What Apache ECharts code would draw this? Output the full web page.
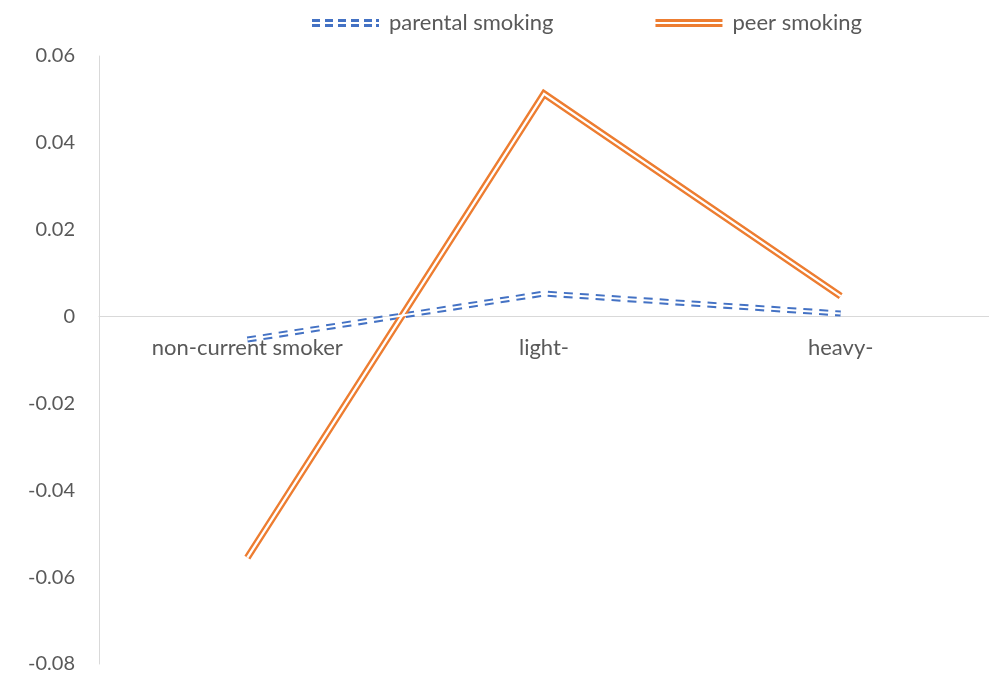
<!DOCTYPE html>
<html>
<head>
<meta charset="utf-8">
<script src="https://cdn.jsdelivr.net/npm/echarts@6/dist/echarts.min.js"></script>
<style>
  html, body { margin: 0; padding: 0; background: #fff; }
  #chart { width: 989px; height: 689px; }
</style>
</head>
<body>
<div id="chart"></div>
<script>
// Smoking-status categories and effect estimates
const categories = ['non-current smoker', 'light-', 'heavy-'];
const parentalSmoking = [-0.0053, 0.0053, 0.0007];
const peerSmoking = [-0.0555, 0.0513, 0.0047];
const yTicks = { min: -0.08, max: 0.06, interval: 0.02 };

const BLUE = '#4472C4';
const ORANGE = '#ED7D31';
const TEXT = '#595959';
const FONT = 'Lato, "Open Sans", sans-serif';

const GRID = { left: 99, right: 0, top: 56, bottom: 25 };
const CHART_H = 689;
const plotH = CHART_H - GRID.top - GRID.bottom;
// Category axis sits on the zero line: shift it up from the grid bottom
const zeroOffset = -plotH * (0 - yTicks.min) / (yTicks.max - yTicks.min);

// Legend icons imitating the double (compound) strokes
const dashedDoubleIcon = 'path://' + [0, 13, 26, 39, 52, 64].map(x => {
  const w = x === 64 ? 3 : 8;
  return `M${x},0h${w}v3h-${w}Z M${x},5h${w}v3h-${w}Z`;
}).join(' ');
const solidDoubleIcon = 'path://M0,0h67v3h-67Z M0,5h67v3h-67Z';

// A compound line is drawn as a wide coloured stroke with a thin white core
function doubleLine(name, data, color, width, core, dash) {
  return [
    {
      name, type: 'line', data, symbol: 'none', z: 2,
      lineStyle: { color, width, type: dash || 'solid', cap: 'butt', join: 'miter' },
      itemStyle: { color }
    },
    {
      name: name + ' core', type: 'line', data, symbol: 'none', z: 3,
      silent: true, tooltip: { show: false },
      lineStyle: { color: '#ffffff', width: core, join: 'miter' }
    }
  ];
}

const chart = echarts.init(document.getElementById('chart'), null, { renderer: 'canvas' });
chart.setOption({
  animation: false,
  textStyle: { fontFamily: FONT },
  legend: {
    top: 7,
    left: 307,
    itemGap: 102,
    itemWidth: 67,
    itemHeight: 8,
    textStyle: { color: TEXT, fontSize: 22, fontFamily: FONT, padding: [0, 0, 0, 5] },
    data: [
      { name: 'parental smoking', icon: dashedDoubleIcon },
      { name: 'peer smoking', icon: solidDoubleIcon }
    ]
  },
  grid: Object.assign({ outerBoundsMode: 'none', containLabel: false }, GRID),
  xAxis: {
    type: 'category',
    data: categories,
    boundaryGap: true,
    offset: zeroOffset,
    axisLine: { onZero: false, lineStyle: { color: '#d9d9d9', width: 1 } },
    axisTick: { show: false },
    axisLabel: { color: TEXT, fontSize: 22, fontFamily: FONT, margin: 20 },
    splitLine: { show: false }
  },
  yAxis: {
    type: 'value',
    min: yTicks.min,
    max: yTicks.max,
    interval: yTicks.interval,
    axisLine: { show: true, lineStyle: { color: '#d9d9d9', width: 1 } },
    axisTick: { show: false },
    splitLine: { show: false },
    axisLabel: {
      color: TEXT, fontSize: 20, fontFamily: FONT, margin: 24,
      formatter: v => (Math.abs(v) < 1e-9 ? '0' : v.toFixed(2))
    }
  },
  series: [
    ...doubleLine('parental smoking', parentalSmoking, BLUE, 6, 2, [9, 7]),
    ...doubleLine('peer smoking', peerSmoking, ORANGE, 7, 2.3)
  ]
});
</script>
</body>
</html>
